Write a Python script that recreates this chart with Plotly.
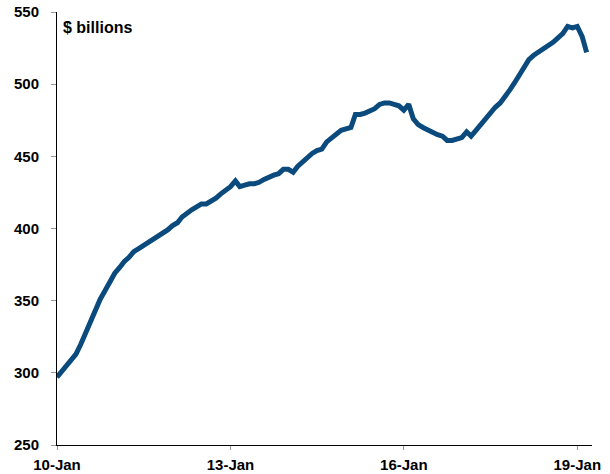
import plotly.graph_objects as go
import pandas as pd

start_month = "2010-01-01"
values = [
    297, 301, 304, 308, 313, 320, 328, 337, 345, 351, 357, 363,
    369, 373, 377, 380, 384, 386, 388, 390, 392, 394, 397, 399,
    402, 404, 408, 411, 413, 415, 417, 417, 419, 421, 424, 426,
    429, 433, 429, 430, 431, 431, 432, 434, 436, 437, 438, 441,
    441, 439, 443, 446, 450, 452, 454, 455, 460, 463, 466, 468,
    469, 470, 479, 479, 480, 482, 483, 486, 487, 487, 486, 485,
    482, 486, 476, 472, 470, 468, 466, 465, 464, 461, 461, 462,
    463, 467, 464, 468, 472, 476, 480, 484, 487, 491, 496, 501,
    506, 511, 517, 520, 522, 524, 527, 529, 532, 535, 540, 539,
    540, 533, 522,
]
dates = pd.date_range(start_month, periods=len(values), freq="MS")

tick_dates = ["2010-01-01", "2013-01-01", "2016-01-01", "2019-01-01"]
tick_labels = ["10-Jan", "13-Jan", "16-Jan", "19-Jan"]
y_ticks = [250, 300, 350, 400, 450, 500, 550]

fig = go.Figure()
fig.add_trace(go.Scatter(
    x=dates, y=values, mode="lines",
    line=dict(color="#0B4A7D", width=5),
    hoverinfo="skip",
))

FONT = "Liberation Sans, Arial, sans-serif"

fig.update_layout(
    width=610, height=474,
    margin=dict(l=57, r=18, t=12, b=29),
    paper_bgcolor="white", plot_bgcolor="white",
    showlegend=False,
    font=dict(family=FONT, size=15, color="black"),
    xaxis=dict(
        range=["2010-01-01", "2019-04-04"],
        tickvals=tick_dates, ticktext=tick_labels,
        showgrid=False, zeroline=False, automargin=False,
        showline=True, linecolor="black", linewidth=1,
        ticks="outside", ticklen=4, tickcolor="#999999", tickwidth=1,
        ticklabelstandoff=2,
        tickfont=dict(family=FONT, size=15, color="black", weight="bold"),
    ),
    yaxis=dict(
        range=[250, 550],
        tickvals=y_ticks,
        showgrid=False, zeroline=False, automargin=False,
        showline=True, linecolor="black", linewidth=1,
        ticks="outside", ticklen=5, tickcolor="#999999", tickwidth=1,
        ticklabelstandoff=9,
        tickfont=dict(family=FONT, size=15, color="black", weight="bold"),
    ),
    annotations=[dict(
        text="<b>$ billions</b>", x=0.008, y=0.965, xref="paper", yref="paper",
        xanchor="left", yanchor="middle", showarrow=False,
        font=dict(family=FONT, size=16, color="black"),
    )],
)

fig.write_html("out.html")
